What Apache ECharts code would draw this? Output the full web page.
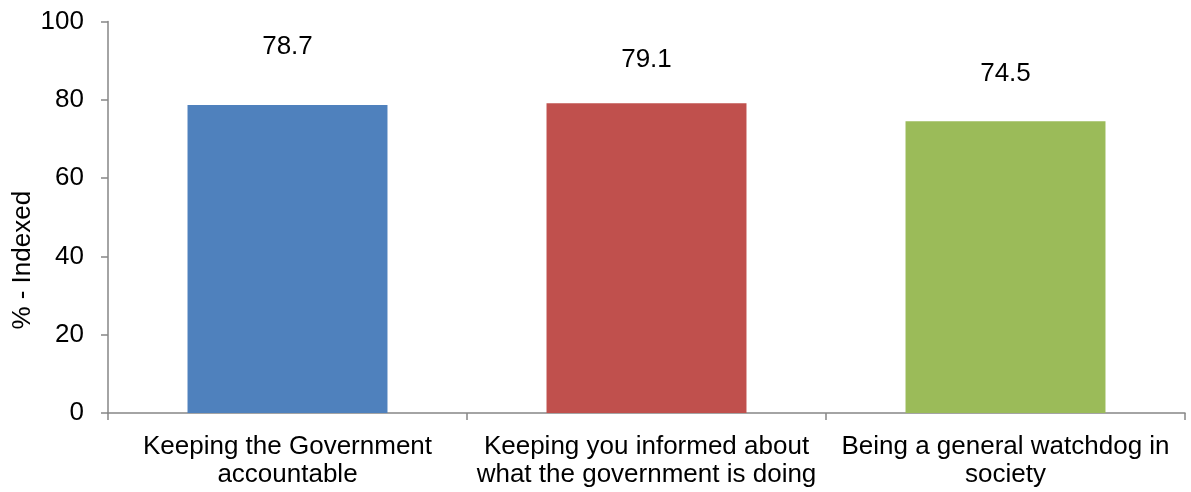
<!DOCTYPE html>
<html>
<head>
<meta charset="utf-8">
<script src="https://cdn.jsdelivr.net/npm/echarts@6/dist/echarts.min.js"></script>
<style>
  html, body { margin: 0; padding: 0; background: #fff; }
  #chart { width: 1191px; height: 492px; }
</style>
</head>
<body>
<div id="chart"></div>
<script>
// Survey categories (x axis) and their indexed scores
const categories = [
  'Keeping the Government\naccountable',
  'Keeping you informed about\nwhat the government is doing',
  'Being a general watchdog in\nsociety'
];
const values = [78.7, 79.1, 74.5];
const barColors = ['#4F81BD', '#C0504D', '#9BBB59'];
const yTicks = [0, 20, 40, 60, 80, 100];

// gap between each bar top and its value label
const labelGaps = [45, 30, 35];

const FONT = '"Liberation Sans", Arial, sans-serif';
const axisGrey = '#868686';

const chart = echarts.init(document.getElementById('chart'), null, { renderer: 'canvas' });

chart.setOption({
  animation: false,
  backgroundColor: '#ffffff',
  grid: { left: 108, right: 6, top: 21.5, bottom: 79, containLabel: false, outerBoundsMode: 'none' },
  xAxis: {
    type: 'category',
    data: categories,
    axisLine: { show: true, lineStyle: { color: axisGrey, width: 1.5 } },
    axisTick: { show: true, length: 7, lineStyle: { color: axisGrey, width: 1.5 } },
    axisLabel: {
      color: '#000',
      fontFamily: FONT,
      fontSize: 26,
      lineHeight: 28,
      margin: 20,
      interval: 0
    },
    splitLine: { show: false }
  },
  yAxis: {
    type: 'value',
    min: yTicks[0],
    max: yTicks[yTicks.length - 1],
    interval: yTicks[1] - yTicks[0],
    name: '% - Indexed',
    nameLocation: 'middle',
    nameGap: 72,
    nameMoveOverlap: false,
    nameTextStyle: { color: '#000', fontFamily: FONT, fontSize: 26, padding: [0, 0, 0, -86] },
    axisLine: { show: true, lineStyle: { color: axisGrey, width: 1.5 } },
    axisTick: { show: true, length: 7, lineStyle: { color: axisGrey, width: 1.5 } },
    axisLabel: { color: '#000', fontFamily: FONT, fontSize: 26, margin: 24 },
    splitLine: { show: false }
  },
  series: [{
    type: 'bar',
    barWidth: '55.7%',
    data: values.map((v, i) => ({
      value: v,
      itemStyle: { color: barColors[i] },
      label: { distance: labelGaps[i] }
    })),
    label: {
      show: true,
      position: 'top',
      color: '#000',
      fontFamily: FONT,
      fontSize: 26,
      formatter: p => p.value.toFixed(1)
    }
  }]
});
</script>
</body>
</html>
